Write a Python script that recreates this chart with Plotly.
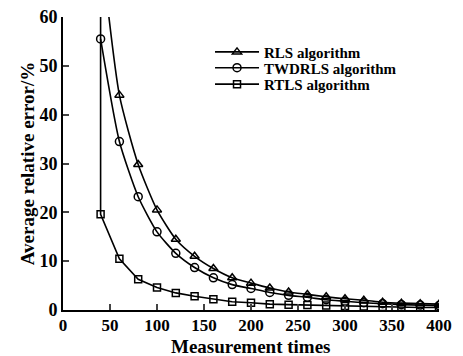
import plotly.graph_objects as go

x_rls = [40, 60, 80, 100, 120, 140, 160, 180, 200, 220, 240, 260, 280, 300, 320, 340, 360, 380, 400]
rls = [75, 44, 29.8, 20.5, 14.5, 11.0, 8.5, 6.6, 5.5, 4.5, 3.7, 3.2, 2.7, 2.3, 2.0, 1.6, 1.4, 1.3, 1.2]

x_tw = [40, 60, 80, 100, 120, 140, 160, 180, 200, 220, 240, 260, 280, 300, 320, 340, 360, 380, 400]
twdrls = [55.5, 34.5, 23.2, 16.0, 11.6, 8.7, 6.6, 5.2, 4.4, 3.6, 3.0, 2.6, 2.1, 1.8, 1.5, 1.3, 1.1, 1.0, 0.9]

x_rt = [40, 40, 60, 80, 100, 120, 140, 160, 180, 200, 220, 240, 260, 280, 300, 320, 340, 360, 380, 400]
rtls = [100, 19.6, 10.5, 6.3, 4.6, 3.5, 2.8, 2.2, 1.7, 1.5, 1.2, 1.1, 1.0, 0.9, 0.8, 0.7, 0.6, 0.6, 0.5, 0.5]

names = ["RLS algorithm", "TWDRLS algorithm", "RTLS algorithm"]
x_ticks = [0, 50, 100, 150, 200, 250, 300, 350, 400]
y_ticks = [0, 10, 20, 30, 40, 50, 60]
x_title = "Measurement times"
y_title = "Average relative error/%"

FONT = "Liberation Serif"
LEG_FONT = dict(family=FONT, size=15, color="black", weight="bold")

fig = go.Figure()
fig.add_trace(go.Scatter(x=x_rls, y=rls, name=names[0], mode="lines+markers", legend="legend",
                         line=dict(color="black", width=1.6, shape="spline", smoothing=0.6),
                         marker=dict(symbol="triangle-up-open", size=8, color="black", line=dict(width=1.5))))
fig.add_trace(go.Scatter(x=x_tw, y=twdrls, name=names[1], mode="lines+markers", legend="legend2",
                         line=dict(color="black", width=1.6, shape="spline", smoothing=0.6),
                         marker=dict(symbol="circle-open", size=8, color="black", line=dict(width=1.5))))
fig.add_trace(go.Scatter(x=x_rt, y=rtls, name=names[2], mode="lines+markers", legend="legend3",
                         line=dict(color="black", width=1.6),
                         marker=dict(symbol="square-open", size=7, color="black", line=dict(width=1.5))))

def leg(y):
    return dict(x=0.391, y=y, xanchor="left", yanchor="middle", bgcolor="rgba(0,0,0,0)",
                font=LEG_FONT, itemwidth=44, borderwidth=0)

# the page body adds an 8px offset, so margins are reduced accordingly
fig.update_layout(
    width=463, height=356,
    margin=dict(l=55, r=32, t=9, b=54, autoexpand=False),
    paper_bgcolor="white", plot_bgcolor="white",
    font=dict(family=FONT, color="black", size=16),
    showlegend=True,
    legend=leg(0.880), legend2=leg(0.826), legend3=leg(0.770),
    xaxis=dict(range=[0, 400], tickvals=x_ticks, ticks="inside", ticklen=6, tickwidth=1.5,
               showline=True, linecolor="black", linewidth=2, showgrid=False, zeroline=False,
               automargin=False, ticklabeloverflow="allow", ticklabelstandoff=-1,
               tickfont=dict(family=FONT, size=17, weight="bold")),
    yaxis=dict(range=[0, 60], tickvals=y_ticks, ticks="inside", ticklen=6, tickwidth=1.5,
               showline=True, linecolor="black", linewidth=2, showgrid=False, zeroline=False,
               automargin=False, ticklabeloverflow="allow",
               tickfont=dict(family=FONT, size=18, weight="bold"),
               title=dict(text=y_title, font=dict(family=FONT, size=19, weight="bold"), standoff=0)),
    annotations=[dict(text=x_title, xref="paper", yref="paper", x=0.5, y=0,
                      xanchor="center", yanchor="top", yshift=-24, showarrow=False,
                      font=dict(family=FONT, size=19, weight="bold", color="black"))],
)

fig.write_html("out.html")
